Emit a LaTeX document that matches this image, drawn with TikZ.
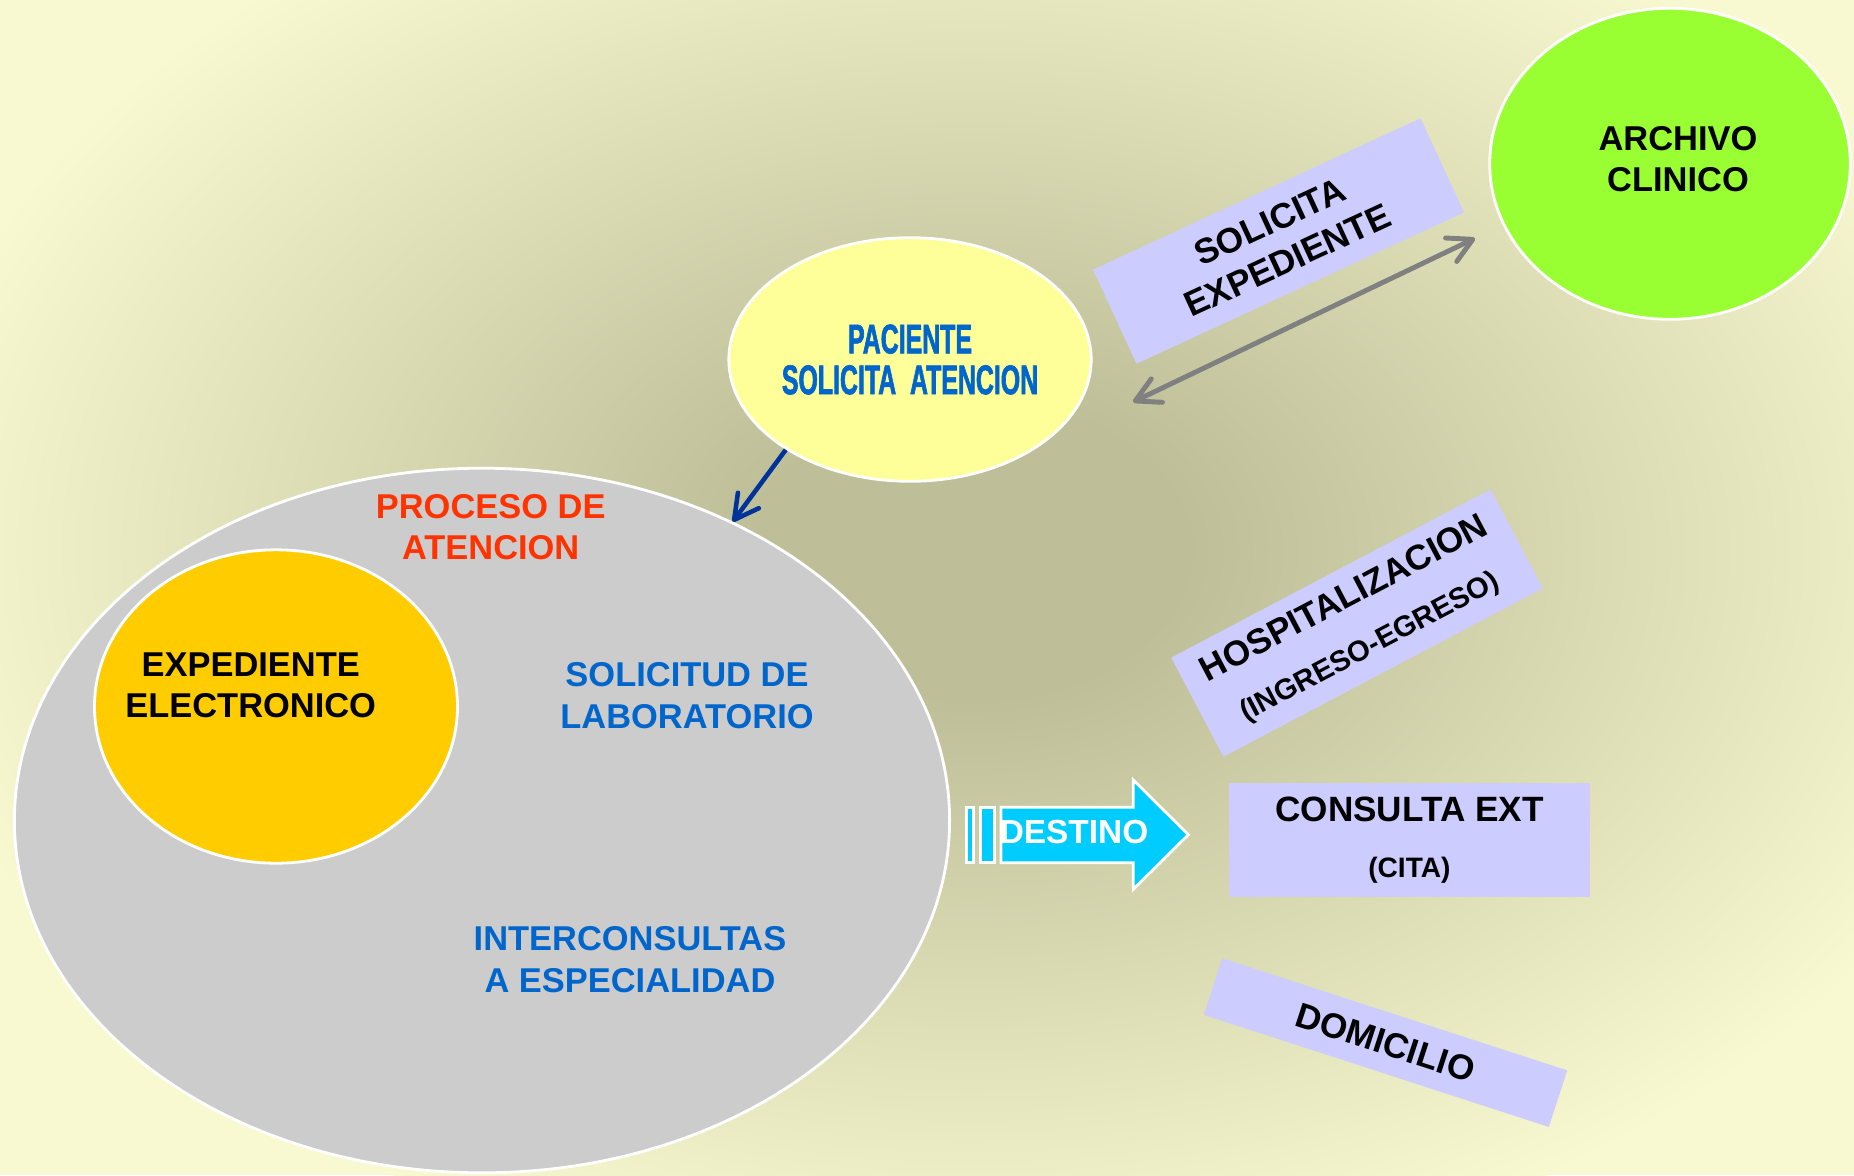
\documentclass[tikz,border=0pt]{standalone}
\usepackage{fontspec}
\setmainfont{Liberation Sans}
\newfontfamily\narrowfont{Liberation Sans}[FakeStretch=0.6, FakeBold=1.5]
\usetikzlibrary{shapes.geometric, arrows.meta}

\definecolor{bglight}{RGB}{248,249,208}
\definecolor{bgdark}{RGB}{190,191,152}
\definecolor{procgray}{HTML}{CCCCCC}
\definecolor{expeorange}{HTML}{FFCC00}
\definecolor{pacyellow}{HTML}{FFFF99}
\definecolor{archgreen}{HTML}{99FF33}
\definecolor{lavender}{HTML}{CCCCFF}
\definecolor{destcyan}{HTML}{00CCFF}
\definecolor{txtblue}{HTML}{0066CC}
\definecolor{procred}{HTML}{FF3300}
\definecolor{arrowblue}{HTML}{003399}
\definecolor{arrowgray}{HTML}{808080}

\pgfdeclareradialshading{bgglow}{\pgfpoint{0bp}{0bp}}{color(0bp)=(bgdark); color(5bp)=(bgdark); color(25bp)=(bglight); color(50bp)=(bglight)}

\begin{document}
\begin{tikzpicture}
    % Define display style
    \tikzstyle{bubble}=[ellipse, draw=white, line width=0.8pt, inner sep=0pt]
    \tikzstyle{txt}=[font=\bfseries\fontsize{9.8}{11.8}\selectfont, align=center, inner sep=0pt]
    \tikzstyle{tag}=[txt, fill=lavender, font=\bfseries\fontsize{10}{12}\selectfont]
    \tikzstyle{destino}=[fill=destcyan, draw=white, line width=0.8pt]
    \tikzstyle{flow}=[line width=1.3pt, arrowblue, -{Straight Barb[length=2.4mm, width=2.6mm, round]}]
    \tikzstyle{exchange}=[line width=1.4pt, arrowgray, {Straight Barb[length=2.4mm, width=2.6mm, round]}-{Straight Barb[length=2.4mm, width=2.6mm, round]}]

    % Define coordinates of the destino arrow
    \newcommand\ArrowTop{-8.073}
    \newcommand\ArrowBot{-8.627}

    % Draw the background
    \useasboundingbox (0,0) rectangle (18.54,-11.75);
    \fill[bglight] (0,0) rectangle (18.54,-11.75);
    \begin{scope}
        \clip (0,0) rectangle (18.54,-11.75);
        \shade[shading=bgglow] (9.7,-5.5) ellipse (10.8 and 7.4);
    \end{scope}

    % Draw the process of attention
    \node[bubble, fill=procgray, minimum width=9.352cm, minimum height=7.046cm] (proc) at (4.82,-8.205) {};
    \node[bubble, fill=expeorange, minimum width=3.63cm, minimum height=3.134cm] (expe) at (2.76,-7.065) {};
    \node[txt] (expetxt) at (2.507,-6.852) {EXPEDIENTE\\ELECTRONICO};
    \node[txt, text=procred] (proctxt) at (4.907,-5.274) {PROCESO DE\\ATENCION};
    \node[txt, text=txtblue] (labo) at (6.87,-6.958) {SOLICITUD DE\\LABORATORIO};
    \node[txt, text=txtblue] (inter) at (6.30,-9.595) {INTERCONSULTAS\\A ESPECIALIDAD};

    % Draw the patient and the archive
    \node[bubble, fill=pacyellow, minimum width=3.488cm, minimum height=2.436cm, text=txtblue, align=center,
          font=\narrowfont\bfseries\fontsize{11.8}{11.6}\selectfont] (pac) at (9.10,-3.595) {PACIENTE\\SOLICITA\ \ ATENCION};
    \node[bubble, fill=archgreen, minimum width=3.606cm, minimum height=3.11cm] (arch) at (16.70,-1.638) {};
    \node[txt] (archtxt) at (16.78,-1.59) {ARCHIVO\\CLINICO};

    \node[tag, rotate=24.8, minimum width=3.608cm, minimum height=1.037cm] (solexp) at (12.785,-2.41) {SOLICITA\\EXPEDIENTE};

    % Draw the arrows
    \coordinate (reqA) at (11.33,-4.02);
    \coordinate (reqB) at (14.75,-2.383);
    \draw[exchange] (reqA) -- (reqB);
    \draw[flow] (pac.216) -- (proc.50);

    % Draw the destinations
    \node[tag, rotate=27.8, minimum width=3.61cm, minimum height=1.12cm] (hosp) at (13.57,-6.23)
        {HOSPITALIZACION\\[3pt]{\fontsize{8.3}{10}\selectfont(INGRESO-EGRESO)}};
    \node[tag, minimum width=3.618cm, minimum height=1.147cm] (cext) at (14.094,-8.40)
        {CONSULTA EXT\\[4pt]{\fontsize{8}{10}\selectfont(CITA)}};
    \node[tag, rotate=-18, minimum width=3.628cm, minimum height=0.595cm] (dom) at (13.855,-10.426) {DOMICILIO};

    % Draw the destino arrow with its stripes
    \foreach \xa/\xb in {9.667/9.733, 9.807/9.943}
        \draw[destino] (\xa,\ArrowTop) rectangle (\xb,\ArrowBot);
    \draw[destino] (10.01,\ArrowTop) -- (11.333,\ArrowTop) -- (11.333,-7.80) -- (11.883,-8.347)
        -- (11.333,-8.893) -- (11.333,\ArrowBot) -- (10.01,\ArrowBot) -- cycle;
    \node[txt, text=white, font=\bfseries\fontsize{9.5}{11}\selectfont] (dest) at (10.74,-8.32) {DESTINO};
\end{tikzpicture}
\end{document}
